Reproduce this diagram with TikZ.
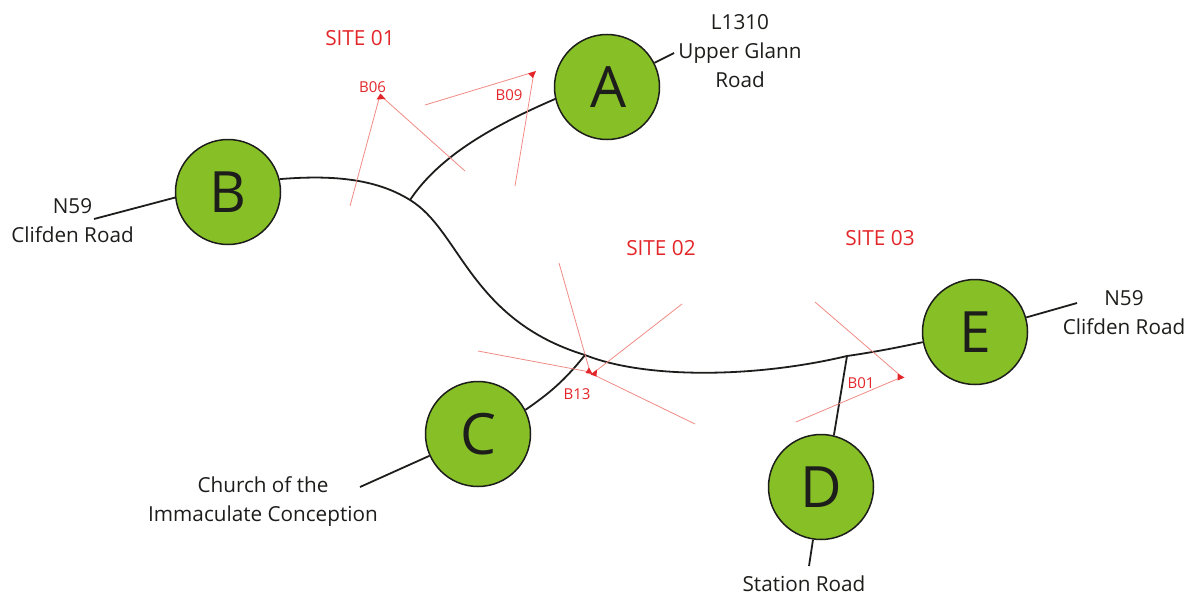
\documentclass[tikz,border=0pt]{standalone}
\usepackage{fontspec}
\setmainfont{Open Sans}
\definecolor{hub}{HTML}{86BF26}
\definecolor{ink}{HTML}{1D1D1B}
\definecolor{site}{HTML}{E3262A}
\definecolor{ray}{HTML}{F08A84}
\tikzset{
  hubnode/.style={circle,draw=ink,line width=1.5pt,fill=hub,minimum size=105pt,inner sep=0pt,text=ink,font=\fontsize{57}{57}\selectfont},
  hubletter/.style={text=ink,font=\fontsize{57}{57}\selectfont},
  road/.style={draw=ink,line width=1.8pt},
  rayline/.style={draw=ray,line width=0.8pt},
  sitetext/.style={text=site,font=\fontsize{20.8}{24}\selectfont,inner sep=0pt},
  viewtext/.style={text=site,font=\fontsize{15}{17}\selectfont,inner sep=0pt},
  roadtext/.style={text=ink,font=\fontsize{20.7}{29}\selectfont,align=center,inner sep=0pt},
  tip/.style={fill=site,draw=none}
}
\begin{document}
\begin{tikzpicture}[x=1pt,y=-1pt]
\useasboundingbox (0,0) rectangle (1194,597);
% free ends and junctions
\coordinate (jab) at (410,200);
\coordinate (jcm) at (585,355);
\coordinate (jde) at (847,356);
\coordinate (nb) at (94,219);
\coordinate (ne) at (1077,303);
\coordinate (na) at (674,53);
\coordinate (nc) at (360,487);
\coordinate (nd) at (809,566);
% hubs
\node[hubnode] (A) at (607,87) {\hspace{3pt}A};
\node[hubnode] (B) at (228,192) {B};
\node[hubnode] (C) at (478,434) {C};
\node[hubnode] (D) at (821,487) {D};
\node[hubnode] (E) at (975,332) {E};
% roads
\draw[road] (nb) -- (B.186);
\draw[road] (B.14) .. controls (330,175) and (375,178) .. (jab)
  .. controls (460,230) and (470,320) .. (jcm)
  .. controls (645,379) and (755,378) .. (jde)
  .. controls (875,352) and (900,347) .. (E.191);
\draw[road] (jab) .. controls (440,155) and (495,125) .. (A.193);
\draw[road] (A.27) -- (na);
\draw[road] (E) -- (ne);
\draw[road] (jcm) .. controls (565,380) and (550,393) .. (C.27);
\draw[road] (C) -- (nc);
\draw[road] (jde) -- (D.76);
\draw[road] (D) -- (nd);
% viewpoints
\coordinate (v06) at (380,95);
\coordinate (v09) at (534,72);
\coordinate (v13a) at (590,372);
\coordinate (v13b) at (592,374);
\coordinate (v01) at (902,377);
\draw[rayline] (350,206) -- (v06) -- (465,171);
\draw[rayline] (425,105) -- (v09) -- (515,186);
\draw[rayline] (559,263) -- (v13a) -- (478,351);
\draw[rayline] (682,304) -- (v13b) -- (695,424);
\draw[rayline] (815,302) -- (v01) -- (796,422);
\fill[tip] (380.5,93.5) -- (376.5,99.5) -- (385.5,99) -- cycle;
\fill[tip] (536,71) -- (528,73.5) -- (533,78) -- cycle;
\fill[tip] (589,367.5) -- (585.5,373) -- (592.5,374) -- cycle;
\fill[tip] (590.5,374.5) -- (597,369.5) -- (596.5,376.5) -- cycle;
\fill[tip] (904.5,377.5) -- (897.5,373.5) -- (897.5,380.5) -- cycle;
% texts
\node[sitetext] (s1) at (360,38) {SITE 01};
\node[sitetext] (s2) at (661,248) {SITE 02};
\node[sitetext] (s3) at (880,238) {SITE 03};
\node[viewtext] (b06) at (372.5,87) {B06};
\node[viewtext] (b09) at (509,95) {B09};
\node[viewtext] (b13) at (577,394) {B13};
\node[viewtext] (b01) at (861,383) {B01};
\node[roadtext] (t1) at (72.5,220.5) {N59\\Clifden Road};
\node[roadtext] (t2) at (740,51.5) {L1310\\Upper Glann\\Road};
\node[roadtext] (t3) at (1124,312.5) {N59\\Clifden Road};
\node[roadtext] (t4) at (263,502) {Church of the\\Immaculate Conception};
\node[roadtext] (t5) at (804,584) {Station Road};
\end{tikzpicture}
\end{document}
